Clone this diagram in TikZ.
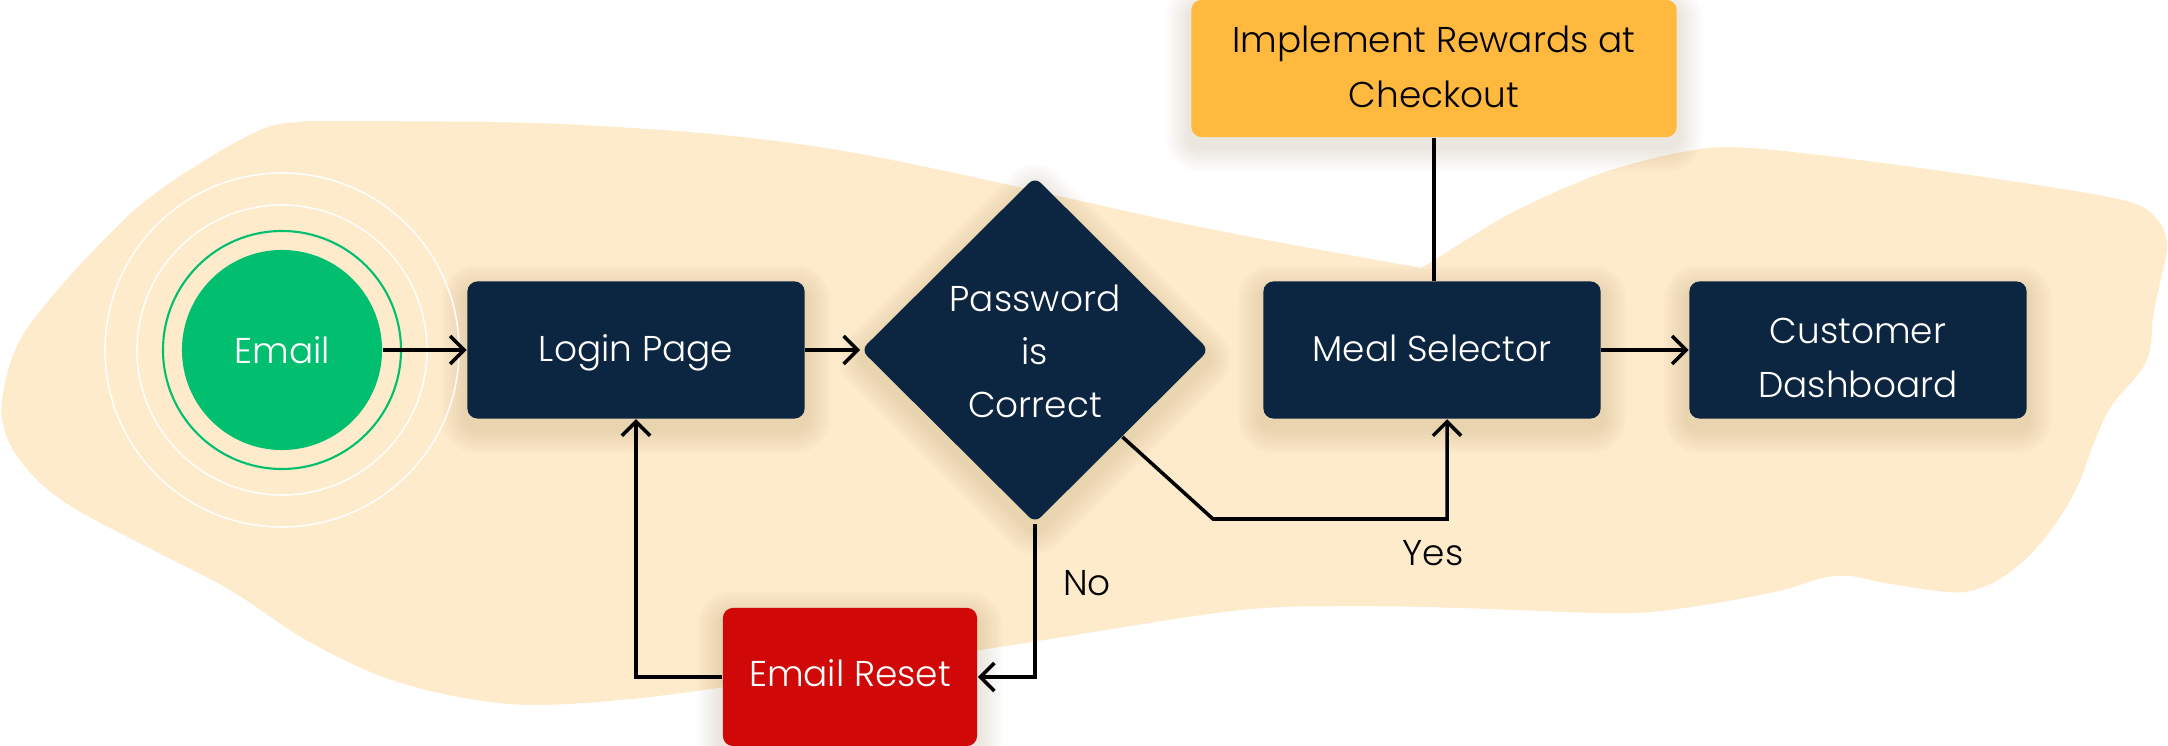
\documentclass[tikz,border=0pt]{standalone}
\usepackage{fontspec}
\IfFontExistsTF{Poppins Light}{\setmainfont{Poppins Light}}{\setmainfont{Poppins}}
\usetikzlibrary{arrows.meta,shapes.geometric}
\definecolor{navy}{HTML}{0C2540}
\definecolor{mygreen}{HTML}{02BF6F}
\definecolor{cream}{HTML}{FDEBCB}
\definecolor{myorange}{HTML}{FFB93E}
\definecolor{myred}{HTML}{D00808}
\definecolor{shadowc}{HTML}{6B4A10}
\newcommand\fsz{\fontsize{10.2pt}{15.4pt}\selectfont}
\pgfdeclarelayer{bg}
\pgfsetlayers{bg,main}
\newcommand\boxshadow[1]{%
  \foreach \k in {1,...,7}{%
    \fill[shadowc, opacity=0.02, rounded corners=\k*0.035cm+0.1cm]
      ([shift={(-3.5*\k,-3.5*\k+9)}]#1.north west) rectangle ([shift={(3.5*\k,3.5*\k+9)}]#1.south east);}}
\begin{document}
\begin{tikzpicture}[x=0.01cm,y=-0.01cm,
  box/.style={rectangle, rounded corners=0.1cm, minimum width=3.37cm, minimum height=1.37cm,
    fill=navy, inner sep=0pt},
  wtxt/.style={anchor=base, font=\fsz, text=white, inner sep=0pt},
  btxt/.style={anchor=base, font=\fsz, text=black, inner sep=0pt},
  conn/.style={draw=black, line width=1pt},
  arr/.style={conn, -{Straight Barb[length=4pt, width=8pt, line width=1pt]}},
  ring/.style={draw=white, line width=0.45pt, opacity=0.9}]
\useasboundingbox (0,0) rectangle (2168,746);
% start node with rings
\node[circle, fill=mygreen, minimum size=2cm, inner sep=0pt] (email) at (282,350) {};
\node[wtxt] (emailt) at (282,364) {Email};
\draw[ring] (email.center) circle[radius=177];
\draw[ring] (email.center) circle[radius=145];
\draw[draw=mygreen, line width=0.6pt] (email.center) circle[radius=119];
% boxes
\node[box] (login) at (636,350) {};
\node[wtxt] (logint) at (636,362) {Login Page};
\node[diamond, fill=navy, minimum width=3.48cm, minimum height=3.46cm, inner sep=0pt, rounded corners=0.08cm] (pw) at (1035,350) {};
\node[wtxt] (pw1) at (1035,312) {Password};
\node[wtxt] (pw2) at (1035,365) {is};
\node[wtxt] (pw3) at (1035,418) {Correct};
\node[box] (meal) at (1432,350) {};
\node[wtxt] (mealt) at (1432,362) {Meal Selector};
\node[box] (cust) at (1858,350) {};
\node[wtxt] (cust1) at (1858,344) {Customer};
\node[wtxt] (cust2) at (1858,398) {Dashboard};
\node[box, fill=myorange, minimum width=4.85cm] (rew) at (1434,68.5) {};
\node[btxt] (rew1) at (1434,53) {Implement Rewards at};
\node[btxt] (rew2) at (1434,108) {Checkout};
\node[box, fill=myred, minimum width=2.54cm, minimum height=1.38cm] (reset) at (850,677) {};
\node[wtxt] (resett) at (850,687) {Email Reset};
% labels
\node[btxt] (no) at (1087,596) {No};
\node[btxt] (yes) at (1433,566) {Yes};
% connectors
\coordinate (yb) at (1213,519);
\draw[arr] (email) -- (login);
\draw[arr] (login) -- (pw);
\draw[arr] (pw.south) |- (reset.east);
\draw[arr] (reset.west) -| (login.south);
\draw[arr] (pw.south east) -- (yb) -| ([xshift=0.15cm]meal.south);
\draw[arr] (meal) -- (cust);
\draw[conn] (rew.south) -- (rew.south |- meal.north);
% background blob and shadows
\begin{pgfonlayer}{bg}
\fill[cream] plot[smooth, tension=0.55] coordinates {
 (1422,268) (1466,240) (1521,208) (1605,172) (1688,151) (1750,148) (1883,163)
 (2050,187) (2133,203) (2160,223) (2167,248) (2160,283) (2153,317) (2150,350)
 (2140,372) (2112,405) (2095,440) (2078,485) (2058,520) (2030,555) (1998,580)
 (1965,592) (1930,590) (1880,582) (1850,576) (1822,578) (1783,590) (1717,603)
 (1650,612) (1596,613) (1460,608) (1335,606) (1224,612) (1000,647) (800,676)
 (650,697) (536,705) (459,697) (383,677) (306,640) (230,590) (153,550) (77,510)
 (35,478) (8,440) (2,400) (20,340) (69,277) (138,207) (207,159) (265,128)
 (300,122) (333,121) (583,125) (838,150) (1200,227) (1422,268)} -- cycle;
\boxshadow{login}
\boxshadow{meal}
\boxshadow{cust}
\boxshadow{rew}
\boxshadow{reset}
\foreach \k in {1,...,7}{%
  \fill[shadowc, opacity=0.02, rounded corners=\k*0.035cm+0.08cm]
    ([shift={(0,-4.9*\k+9)}]pw.north) -- ([shift={(4.9*\k,9)}]pw.east)
    -- ([shift={(0,4.9*\k+9)}]pw.south) -- ([shift={(-4.9*\k,9)}]pw.west) -- cycle;}
\end{pgfonlayer}
\end{tikzpicture}
\end{document}
